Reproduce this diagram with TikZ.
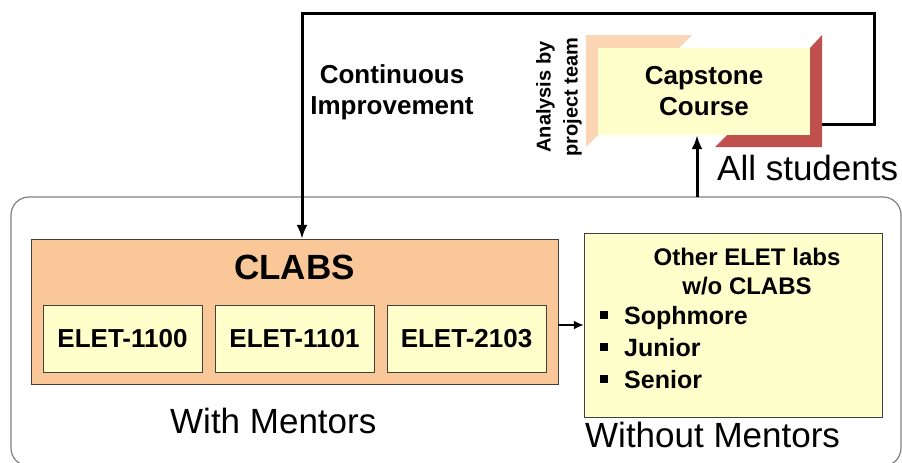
\documentclass[tikz,border=0pt]{standalone}
\usepackage{fontspec}
\setmainfont{Liberation Sans}
\usetikzlibrary{arrows.meta}
\definecolor{labyellow}{HTML}{FFFFCC}
\definecolor{clabsorange}{HTML}{FAC898}
\definecolor{bevellight}{HTML}{FCD5B4}
\definecolor{bevelred}{HTML}{C0504D}
\newcommand{\fsz}[2]{\fontsize{#1}{#2}\selectfont}

\begin{document}
\begin{tikzpicture}[x=1pt,y=-1pt,>={Latex[length=14pt,width=11pt]},
    labbox/.style={draw=black!75,fill=labyellow,minimum width=159,minimum height=67,inner sep=0pt,font=\bfseries\fsz{26}{31}},
    txt/.style={inner sep=0pt,font=\fsz{35}{42}},
    feed/.style={line width=3pt}]
    \useasboundingbox (0,0) rectangle (902,463);
    \draw[black!50,line width=1.2pt,rounded corners=18] (11,197) rectangle (901,466);
    % CLABS block
    \node[draw=black!75,fill=clabsorange,minimum width=527,minimum height=145,inner sep=0pt] (clabs) at (294.5,311.5) {};
    \node[font=\bfseries\fsz{35}{42}] (clabsname) at (294.5,267) {CLABS};
    \node[labbox] (e1100) at (122.5,338.5) {ELET-1100};
    \node[labbox] (e1101) at (294.5,338.5) {ELET-1101};
    \node[labbox] (e2103) at (466.5,338.5) {ELET-2103};
    \node[txt,anchor=base west] (withm) at (170,433) {With Mentors};
    % labs without mentors
    \node[draw=black!75,fill=labyellow,minimum width=298,minimum height=184,inner sep=0pt] (other) at (733,325) {};
    \node[font=\bfseries\fsz{24}{29},align=center] (otherlabs) at (747,272) {Other ELET labs\\w/o CLABS};
    \foreach \yb/\name in {324/Sophmore,356/Junior,388/Senior}{
        \fill (600,\yb-13) rectangle (608,\yb-5);
        \node[inner sep=0pt,font=\bfseries\fsz{25}{30},anchor=base west] (item-\yb) at (624,\yb) {\name};
    }
    \node[txt,anchor=base west] (withoutm) at (585,447) {Without Mentors};
    % capstone
    \fill[bevellight] (586,35) -- (692,35) -- (679,48) -- (598,48) -- (598,135) -- (586,147) -- cycle;
    \fill[bevelred] (822,35) -- (822,147) -- (715,147) -- (727,135) -- (810,135) -- (810,48) -- cycle;
    \node[fill=labyellow,minimum width=212,minimum height=87,inner sep=0pt,font=\bfseries\fsz{26}{31},align=center] (capstone) at (704,91.5) {Capstone\\Course};
    \node[rotate=90,font=\bfseries\fsz{20}{27},align=center] (analysis) at (559,97) {Analysis by\\project team};
    \node[font=\bfseries\fsz{26}{31},align=center] (contimp) at (392,92) {Continuous\\Improvement};
    \node[txt,anchor=base west] (allstud) at (717,180) {All students};
    % connectors
    \coordinate (framepick) at (697,197);
    \draw[->,feed] (framepick) -- (framepick |- capstone.south);
    \coordinate (fbstart) at (822,124);
    \coordinate (fbcorner) at (874,13);
    \coordinate (fbdrop) at (302,13);
    \draw[->,feed] (fbstart) -| (fbcorner) -- (fbdrop) -- (fbdrop |- clabs.north);
    \draw[-{Latex[length=10pt,width=9pt]},line width=1.8pt] (clabs.east |- other.west) -- (other.west);
\end{tikzpicture}
\end{document}
